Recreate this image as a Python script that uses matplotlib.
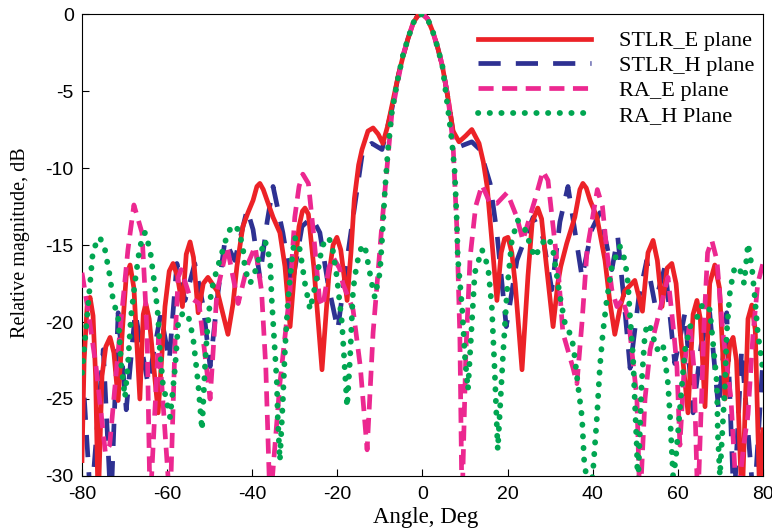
import numpy as np
import matplotlib
matplotlib.use("Agg")
import matplotlib.pyplot as plt

plt.rcParams['axes.unicode_minus'] = False

# STLR E plane (red, solid)
stlr_e_deg = [-80, -79.5, -78.8, -78.1, -77.4, -76.8, -76.2, -75.3, -74.4, -73.4, -72.5, -71.5,
              -70.5, -69.6, -68.7, -67.8, -66.4, -65.6, -65.0, -64.2, -62.1, -60.5, -59.5, -58.6,
              -57.6, -56.4, -55.5, -54.6, -53.8, -52.7, -51.5, -50.4, -48.2, -45.7, -44.5, -43.6,
              -42.2, -41.0, -39.8, -38.9, -38.2, -37.4, -36.5, -35.1, -33.5, -32.3, -31.1, -30.0,
              -29.0, -28.2, -27.6, -26.8, -25.5, -23.6, -22.0, -21.0, -20.1, -19.2, -17.7, -16.8,
              -16.0, -15.0, -14.2, -12.8, -11.6, -10.4, -9.3, -8.2, -6.9, -5.6, -4.6, -3.4, -2.2,
              -1.1, 0, 1.2, 2.5, 3.6, 4.7, 6.1, 7.2, 8.6, 10.2, 11.6, 13.3, 14.3, 15.2, 16.4, 17.5,
              18.5, 19.3, 20.1, 21.0, 21.8, 23.4, 24.8, 25.8, 27.1, 28.0, 29.0, 30.7, 31.8, 32.5,
              33.9, 35.8, 37.0, 37.7, 38.5, 39.4, 41.0, 42.9, 44.0, 45.2, 46.5, 47.5, 49.9, 51.7,
              53.0, 54.2, 55.2, 56.3, 57.5, 58.6, 59.6, 60.5, 62.4, 63.6, 64.5, 65.3, 66.4, 67.5,
              68.7, 69.8, 71.1, 72.2, 73.0, 73.8, 75.1, 76.5, 77.4, 78.2, 79.3, 80]
stlr_e_db = [-29, -22.5, -19.0, -18.4, -19.6, -23.5, -32, -23.5, -21.6, -21.0, -22.0, -25.1,
             -20.5, -17.0, -16.3, -17.8, -25.0, -19.5, -18.8, -19.8, -25.9, -19.0, -16.7, -16.2,
             -17.0, -19.0, -15.6, -14.8, -15.8, -19.4, -17.5, -17.1, -18.0, -20.8, -18.8, -16.4,
             -13.8, -12.9, -12.1, -11.2, -11.0, -11.4, -12.1, -13.2, -14.2, -16.4, -20.3, -16.5,
             -13.8, -12.8, -12.6, -13.0, -16.5, -23.1, -17.0, -15.0, -14.5, -15.3, -18.6, -15.5,
             -12.0, -9.8, -8.8, -7.6, -7.4, -7.8, -8.4, -7.3, -5.6, -3.9, -2.8, -1.6, -0.6,
             -0.1, 0, -0.3, -1.2, -2.2, -3.4, -5.6, -7.6, -8.3, -7.9, -7.5, -8.4, -9.6, -11.2, -15.0, -18.6,
             -15.5, -14.6, -14.5, -15.5, -17.5, -23.1, -17.0, -13.5, -12.6, -13.3, -16.0, -20.3, -17.5, -16.4,
             -14.9, -13.2, -11.4, -11.0, -11.3, -12.1, -13.2, -16.0, -18.6, -20.8, -19.0, -18.0, -17.3, -19.3,
             -15.5, -14.7, -16.0, -19.0, -16.5, -16.2, -17.5, -20.5, -25.9, -19.5, -18.6, -19.8, -25.5, -17.5,
             -16.3, -17.8, -25.0, -21.5, -21.0, -22.5, -32, -19.8, -18.9, -20.5, -32, -27]

# STLR H plane (blue, long dashes)
stlr_h_deg = [-80, -77.9, -75.0, -73.2, -71.5, -69.6, -67.5, -64.5, -61.5, -59.5, -57.7, -55.8,
              -53.5, -51.5, -49.9, -48.0, -46.4, -44.1, -41.2, -39.8, -38.2, -36.5, -35.1, -32.8,
              -30.7, -28.3, -26.0, -24.1, -22.2, -19.9, -18.0, -16.3, -14.0, -11.9, -9.5, -7.2,
              -5.6, -4.6, -3.4, -2.2, -1.1, 0, 1.2, 2.5, 3.6, 4.7, 6.1, 7.2, 8.8, 11.6, 13.5, 15.9,
              17.5, 19.7, 22.2, 26.0, 28.3, 30.4, 32.3, 34.2, 37.5, 39.8, 41.7, 44.5, 45.9, 47.5,
              48.8, 50.8, 52.7, 54.6, 57.0, 59.3, 61.7, 63.6, 65.5, 67.5, 69.6, 71.5, 73.2, 75.0,
              77.9, 80]
stlr_h_db = [-22.5, -32, -21.8, -32, -19.4, -25.7, -19.4, -24.0, -19.5, -22.5, -16.2, -18.6,
             -16.2, -19.0, -22.9, -18.0, -14.7, -16.0, -12.7, -14.0, -17.1, -13.5, -11.2, -14.2,
             -17.7, -13.8, -13.2, -14.2, -17.5, -20.5, -16.5, -13.2, -8.8, -8.4, -8.8, -6.2,
             -3.9, -2.8, -1.6, -0.6, -0.1, 0, -0.3, -1.2, -2.2, -3.4, -5.6, -7.7, -8.6, -8.3, -8.8, -11.0,
             -14.2, -20.3, -16.0, -13.2, -14.5, -17.9, -13.5, -11.2, -17.1, -14.0, -12.9, -16.6, -14.5, -19.0,
             -23.0, -18.5, -16.0, -18.8, -16.4, -22.7, -19.4, -25.9, -21.5, -19.4, -25.7, -19.4, -32, -21.8,
             -32, -22.5]

# RA E plane (magenta, short dashes)
ra_e_deg = [-80, -78.6, -76.7, -74.5, -73.5, -71.1, -69.2, -67.8, -65.9, -64.7, -64.0, -62.0,
            -59.3, -58.1, -57.4, -56.7, -54.6, -52.5, -49.9, -48.3, -45.9, -43.3, -41.0, -39.3,
            -37.8, -36.8, -35.8, -33.5, -31.1, -30.0, -29.0, -28.1, -26.8, -25.5, -24.2, -23.4,
            -22.0, -21.0, -19.5, -18.7, -16.3, -14.6, -13.0, -11.6, -10.5, -9.5, -8.3, -7.2, -6.0,
            -4.6, -3.4, -2.2, -1.1, 0, 1.2, 2.5, 3.6, 4.7, 6.1, 7.2, 8.1, 8.8, 9.3, 10.2, 11.2,
            12.5, 14.0, 15.9, 17.5, 19.9, 22.2, 23.6, 25.2, 26.4, 28.3, 29.5, 30.7, 32.0, 33.0,
            35.4, 36.3, 37.5, 38.7, 41.1, 42.3, 43.3, 44.5, 45.7, 47.1, 48.5, 50.4, 51.1, 52.3,
            53.5, 55.8, 57.7, 59.0, 59.8, 60.5, 61.5, 62.8, 63.8, 64.7, 66.2, 67.0, 68.0, 69.2,
            70.6, 72.5, 73.9, 75.5, 76.5, 77.7, 78.8, 80]
ra_e_db = [-16.8, -19.2, -22.9, -28.5, -28.0, -20.7, -15.3, -12.4, -14.2, -20.7, -32, -21.0,
           -32, -21.0, -17.1, -16.6, -18.4, -18.8, -25.0, -18.1, -15.1, -18.8, -16.2, -15.1,
           -18.0, -23.0, -32, -24.0, -17.9, -13.2, -11.2, -10.4, -11.0, -14.5, -18.5, -19.0,
           -16.5, -15.8, -16.5, -17.5, -19.2, -22.9, -28.3, -20.7, -17.0, -13.6, -9.9, -6.5, -4.7,
           -2.7, -1.6, -0.6, -0.1, 0, -0.3, -1.2, -2.2, -3.4, -5.6, -8.5, -14.0, -21.0, -32, -22.0,
           -15.8, -12.5, -11.1, -12.3, -12.3, -11.6, -13.2, -14.7, -13.2, -12.1, -10.2, -10.8, -13.8,
           -17.0, -20.7, -23.0, -24.0, -20.0, -15.3, -11.4, -12.5, -15.3, -17.9, -19.0, -18.5, -20.0,
           -25.0, -32, -25.0, -21.8, -19.2, -17.1, -20.5, -22.9, -28.0, -23.0, -20.0, -23.0, -32, -20.0,
           -15.5, -14.7, -16.0, -20.7, -25.0, -32, -28.0, -26.0, -20.7, -17.5, -16.2]

# RA H plane (green, dots)
ra_h_deg = [-80, -79.0, -78.1, -77.4, -75.8, -74.6, -73.4, -72.7, -71.5, -70.8, -69.9, -69.2,
            -68.5, -67.5, -66.4, -65.2, -64.0, -62.8, -62.1, -61.7, -61.0, -59.3, -58.1, -57.4,
            -56.3, -55.1, -53.9, -52.7, -51.8, -51.1, -50.6, -49.9, -49.2, -48.3, -46.9, -45.7,
            -44.5, -43.3, -42.2, -41.7, -40.5, -39.4, -38.6, -37.0, -35.8, -35.4, -34.7, -34.2,
            -34.0, -33.5, -32.8, -32.3, -31.6, -30.7, -30.0, -28.8, -27.6, -26.4, -24.8, -23.6,
            -22.2, -21.3, -20.1, -18.9, -17.7, -17.0, -16.3, -15.4, -14.2, -13.5, -11.9, -11.2,
            -10.0, -9.5, -8.8, -8.1, -7.2, -6.0, -4.6, -3.4, -2.2, -1.1, 0, 1.2, 2.5, 3.6, 4.7,
            6.1, 6.9, 7.6, 8.1, 8.3, 9.3, 10.0, 10.7, 11.6, 12.3, 14.0, 15.4, 16.3, 17.0, 17.7,
            18.9, 19.9, 21.0, 22.4, 24.1, 25.7, 26.4, 28.1, 29.3, 30.5, 32.3, 33.5, 35.1, 35.8,
            36.5, 37.5, 38.0, 39.0, 40.0, 41.0, 41.7, 42.4, 43.3, 44.5, 46.4, 47.6, 48.3, 48.8,
            49.5, 49.9, 50.4, 50.6, 51.5, 52.3, 53.0, 53.5, 55.1, 56.5, 57.7, 58.2, 58.9, 59.5,
            61.0, 61.7, 62.9, 64.5, 65.9, 67.5, 68.3, 69.2, 69.4, 69.9, 71.1, 71.5, 72.3, 73.4,
            74.6, 75.6, 76.5, 77.4, 78.1, 78.8, 80]
ra_h_db = [-23.3, -20.3, -17.5, -15.3, -14.5, -15.3, -17.1, -18.6, -19.7, -22.7, -24.9, -22.7,
           -19.7, -17.3, -15.1, -14.2, -15.3, -17.9, -19.7, -21.8, -24.0, -26.2, -22.9, -20.1,
           -19.4, -19.5, -21.0, -24.0, -27.0, -22.9, -20.7, -18.6, -17.5, -16.6, -15.3, -14.2,
           -13.7, -14.0, -15.1, -16.6, -17.5, -16.8, -16.0, -14.7, -16.0, -18.6, -21.8, -24.0,
           -26.2, -29.0, -25.1, -21.8, -18.6, -16.0, -14.5, -15.3, -17.5, -19.2, -17.1, -15.1,
           -14.5, -14.9, -17.1, -20.1, -25.5, -22.3, -17.9, -16.2, -15.0, -15.1, -17.5, -18.4,
           -16.8, -14.7, -11.4, -8.8, -6.4, -4.5, -2.7, -1.6, -0.6, -0.1, 0, -0.3, -1.2, -2.2, -3.4,
           -6.4, -8.2, -10.3, -13.6, -15.8, -19.0, -22.3, -24.4, -20.1, -16.8, -15.3, -16.4, -19.0,
           -23.3, -28.3, -22.3, -17.9, -14.7, -13.4, -14.0, -15.3, -15.8, -14.9, -14.5, -15.0, -18.3,
           -20.1, -21.0, -22.3, -24.0, -26.2, -29.0, -31.0, -30.0, -26.2, -22.9, -20.7, -18.6, -16.4,
           -15.1, -16.0, -17.5, -19.7, -22.3, -25.1, -28.3, -31.0, -24.0, -20.7, -20.1, -20.3, -21.8,
           -21.4, -24.0, -26.2, -30.0, -29.0, -24.0, -21.8, -20.3, -19.7, -18.8, -19.2, -21.4, -24.0,
           -27.2, -30.0, -24.0, -20.7, -17.9, -16.4, -16.6, -17.5, -14.9, -16.4, -18.4, -20.7, -23.1]

series_labels = ["STLR_E plane", "STLR_H plane", "RA_E plane", "RA_H Plane"]
x_ticks = [-80, -60, -40, -20, 0, 20, 40, 60, 80]
y_ticks = [0, -5, -10, -15, -20, -25, -30]

fig = plt.figure(figsize=(7.72, 5.29), dpi=100)
ax = fig.add_axes([0.1062, 0.1002, 0.882, 0.8733])

ax.plot(stlr_e_deg, stlr_e_db, color="#EC2227", lw=3.4, solid_joinstyle="round",
        label=series_labels[0], zorder=3)
ax.plot(stlr_h_deg, stlr_h_db, color="#2E3192", lw=3.4, linestyle=(0, (4.7, 3.2)),
        label=series_labels[1], zorder=2)
ax.plot(ra_e_deg, ra_e_db, color="#EC2890", lw=3.4, linestyle=(0, (3.2, 1.8)),
        label=series_labels[2], zorder=4)
ax.plot(ra_h_deg, ra_h_db, color="#00A651", lw=4.2, linestyle=(0, (0.05, 1.95)),
        dash_capstyle="round", label=series_labels[3], zorder=5)

ax.set_xlim(-80, 80)
ax.set_ylim(-30, 0)
ax.set_xticks(x_ticks)
ax.set_yticks(y_ticks)
ax.tick_params(direction="in", length=5, labelsize=14, top=False, right=False)
ax.tick_params(axis="x", pad=7)
ax.tick_params(axis="y", pad=6)
for lab in ax.get_xticklabels() + ax.get_yticklabels():
    lab.set_fontfamily("Liberation Sans")

ax.set_xlabel("Angle, Deg", family="Liberation Serif", fontsize=16.5)
ax.set_ylabel("Relative magnitude, dB", family="Liberation Serif", fontsize=14.5)
ax.xaxis.set_label_coords(0.504, -0.068)
ax.yaxis.set_label_coords(-0.076, 0.506)

leg = ax.legend(loc="upper right", bbox_to_anchor=(0.997, 0.978), frameon=False,
                prop={"family": "Liberation Serif", "size": 16},
                handlelength=5.1, handletextpad=1.25, labelspacing=0.19,
                borderpad=0.2, borderaxespad=0.1)

fig.savefig("out.png", dpi=100)
